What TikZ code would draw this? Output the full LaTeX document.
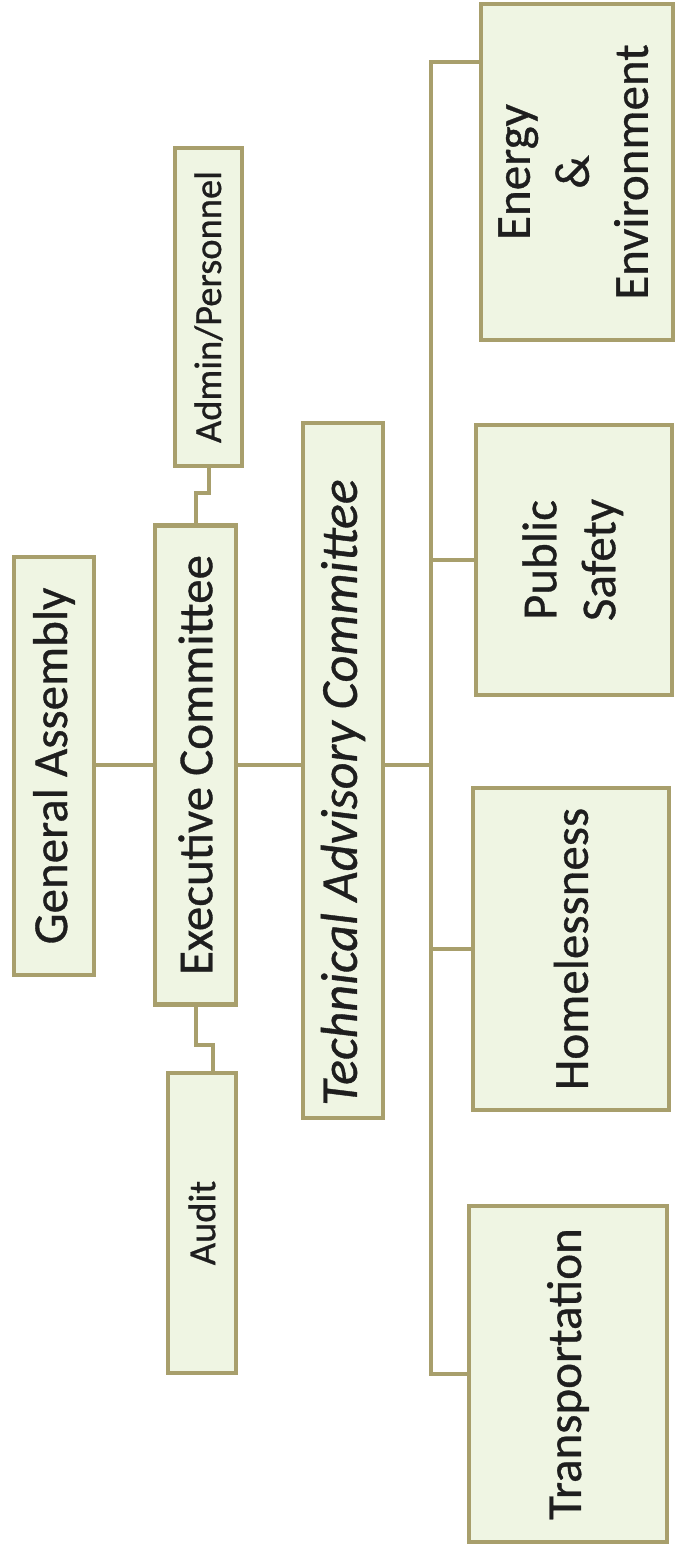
\documentclass[tikz,border=0pt]{standalone}
\usepackage{fontspec}
\setmainfont{Carlito}[FakeBold=0.7]
\usepackage{graphicx}
\definecolor{boxfill}{HTML}{EFF5E3}
\definecolor{boxline}{HTML}{A89F6C}
\definecolor{txt}{HTML}{1E1E1E}
\tikzset{
  orgbox/.style={draw=boxline, fill=boxfill, line width=4.5pt, rectangle, inner sep=0pt, align=center, text=txt},
  conn/.style={draw=boxline, line width=4pt, line join=miter},
  bigtext/.style={font=\fontsize{49}{59}\selectfont},
  tactext/.style={font=\fontsize{52}{60}\selectfont\itshape},
  smalltext/.style={font=\fontsize{38.5}{46}\selectfont}
}
\begin{document}
\begin{tikzpicture}[x=1pt,y=-1pt]
\useasboundingbox (0,0) rectangle (675,1549);
% main chain
\node[orgbox, bigtext, minimum width=80pt, minimum height=418pt] (ga) at (54,766) {\rotatebox{90}{General Assembly}};
\node[orgbox, bigtext, minimum width=81pt, minimum height=479pt] (exec) at (195.5,765) {\rotatebox{90}{Executive Committee}};
\node[orgbox, smalltext, minimum width=67pt, minimum height=318pt] (admin) at (208.5,307) {\rotatebox{90}{Admin/Personnel}};
\node[orgbox, smalltext, minimum width=68pt, minimum height=300pt] (audit) at (202,1223) {\rotatebox{90}{Audit}};
\node[orgbox, tactext, minimum width=80pt, minimum height=695pt] (tac) at (343,770.5) {\rotatebox{90}{Technical Advisory Committee\hspace{44pt}}};
% committees
\node[orgbox, bigtext, minimum width=192pt, minimum height=336pt] (energy) at (577,172) {\rotatebox{90}{\begin{tabular}{@{}c@{}}Energy\\\&\\Environment\end{tabular}}};
\node[orgbox, bigtext, minimum width=196pt, minimum height=270pt] (safety) at (574,560) {\rotatebox{90}{\begin{tabular}{@{}c@{}}Public\\Safety\end{tabular}}};
\node[orgbox, bigtext, minimum width=196pt, minimum height=322pt] (home) at (571,949) {\rotatebox{90}{Homelessness}};
\node[orgbox, bigtext, minimum width=198pt, minimum height=336pt] (trans) at (568,1374) {\rotatebox{90}{Transportation}};
% trunk coordinates
\coordinate (tE) at (431,62);
\coordinate (tT) at (431,1374);
\coordinate (mid) at (0,765);
% connectors
\draw[conn] (ga.east |- mid) -- (mid -| exec.west);
\draw[conn] (exec.east |- mid) -- (mid -| tac.west);
\draw[conn] (tac.east |- mid) -- (mid -| tE);
\draw[conn] (exec.north) -- ++(0,-30) -| (admin.south);
\draw[conn] (exec.south) -- ++(0,38) -| ([xshift=11pt]audit.north);
\draw[conn] (energy.west |- tE) -- (tE) -- (tT) -- (trans.west);
\draw[conn] (safety.west) -- (safety.west -| tE);
\draw[conn] (home.west) -- (home.west -| tE);
\end{tikzpicture}
\end{document}
